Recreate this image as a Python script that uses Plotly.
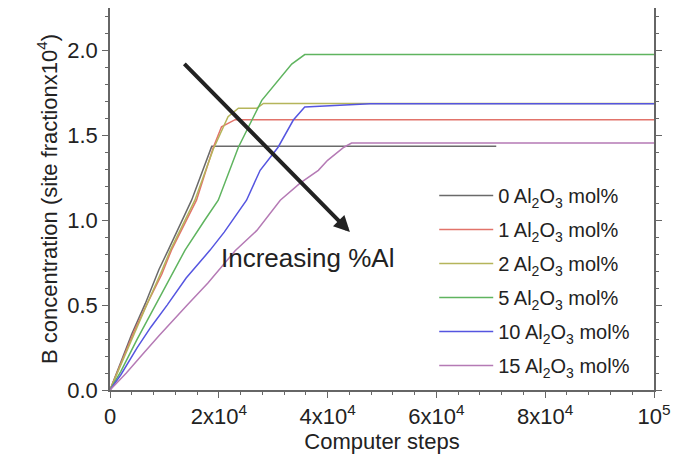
import plotly.graph_objects as go

# ---- data ----
labels = ["0 Al<sub>2</sub>O<sub>3</sub> mol%", "1 Al<sub>2</sub>O<sub>3</sub> mol%",
          "2 Al<sub>2</sub>O<sub>3</sub> mol%", "5 Al<sub>2</sub>O<sub>3</sub> mol%",
          "10 Al<sub>2</sub>O<sub>3</sub> mol%", "15 Al<sub>2</sub>O<sub>3</sub> mol%"]
colors = ["#6a6a6a", "#e2736a", "#b5b55a", "#5fb45f", "#5555e0", "#b57ab5"]

x0 = [0, 2000, 4000, 6500, 9000, 10700, 15000, 18700, 71000]
y0 = [0, 0.17, 0.33, 0.51, 0.71, 0.824, 1.118, 1.435, 1.435]

x1 = [0, 2000, 4500, 6700, 9500, 11300, 15900, 19000, 20500, 23000, 100000]
y1 = [0, 0.16, 0.35, 0.50, 0.68, 0.824, 1.118, 1.43, 1.55, 1.592, 1.592]

x2 = [0, 2000, 4500, 7000, 9500, 11100, 15600, 19000, 21700, 23600, 27000, 28200, 100000]
y2 = [0, 0.15, 0.34, 0.52, 0.70, 0.824, 1.118, 1.42, 1.61, 1.66, 1.66, 1.688, 1.688]

x5 = [0, 2000, 5000, 8400, 13800, 17400, 19900, 23600, 27900, 33400, 35800, 100000]
y5 = [0, 0.11, 0.30, 0.50, 0.824, 1.00, 1.118, 1.43, 1.706, 1.92, 1.976, 1.976]

x10 = [0, 2000, 5000, 7500, 10500, 14000, 18400, 21000, 25100, 27600, 30900, 33700, 35800, 40000, 47800, 100000]
y10 = [0, 0.09, 0.25, 0.37, 0.50, 0.66, 0.824, 0.93, 1.118, 1.294, 1.43, 1.59, 1.667, 1.675, 1.686, 1.686]

x15 = [0, 3000, 6000, 9000, 14200, 18000, 23000, 27000, 31300, 35000, 38300, 40000, 43000, 44400, 100000]
y15 = [0, 0.10, 0.21, 0.32, 0.50, 0.63, 0.82, 0.94, 1.118, 1.22, 1.294, 1.353, 1.43, 1.455, 1.455]

xs = [x0, x1, x2, x5, x10, x15]
ys = [y0, y1, y2, y5, y10, y15]

x_tickvals = [0, 20000, 40000, 60000, 80000, 100000]
x_ticktext = ["0", "2x10<sup>4</sup>", "4x10<sup>4</sup>", "6x10<sup>4</sup>",
              "8x10<sup>4</sup>", "10<sup>5</sup>"]
y_tickvals = [0, 0.5, 1.0, 1.5, 2.0]
y_ticktext = ["0.0", "0.5", "1.0", "1.5", "2.0"]

fig = go.Figure()
for i in range(len(labels)):
    fig.add_trace(go.Scatter(x=xs[i], y=ys[i], mode="lines", name=labels[i],
                             line=dict(color=colors[i], width=1.5),
                             legendgroup=str(i)))

axis_common = dict(showline=True, linecolor="#666", linewidth=1.5, mirror="ticks",
                   ticks="outside", tickcolor="#666", tickwidth=1.2, ticklen=6,
                   showgrid=False, zeroline=False,
                   tickfont=dict(size=22, color="#222"))

fig.update_xaxes(range=[0, 100000], tickvals=x_tickvals, ticktext=x_ticktext,
                 minor=dict(dtick=4000, ticks="outside", ticklen=3, tickcolor="#666", showgrid=False),
                 title=dict(text="Computer steps", font=dict(size=22, color="#222"), standoff=0),
                 **axis_common)
fig.update_yaxes(range=[0, 2.25], tickvals=y_tickvals, ticktext=y_ticktext,
                 minor=dict(dtick=0.1, ticks="outside", ticklen=3, tickcolor="#666", showgrid=False),
                 title=dict(text="B concentration (site fractionx10<sup>4</sup>)",
                            font=dict(size=22, color="#222"), standoff=4),
                 **axis_common)

fig.add_annotation(x=44100, y=0.93, ax=13400, ay=1.93, xref="x", yref="y",
                   axref="x", ayref="y", showarrow=True, arrowhead=2, arrowsize=0.8,
                   arrowwidth=4, arrowcolor="#222", text="")
fig.add_annotation(x=36300, y=0.776, xref="x", yref="y", text="Increasing %Al",
                   showarrow=False, font=dict(size=26, color="#222"))

fig.update_layout(
    width=675, height=452,
    margin=dict(l=102, r=29, t=0, b=70, autoexpand=False),
    plot_bgcolor="white", paper_bgcolor="white",
    font=dict(family="Liberation Sans, Arial, sans-serif", color="#222"),
    legend=dict(x=0.596, y=0.56, xanchor="left", yanchor="top",
                bgcolor="rgba(0,0,0,0)", font=dict(size=20, color="#222"),
                tracegroupgap=5, itemwidth=54),
    showlegend=True,
)

fig.write_html("out.html")
